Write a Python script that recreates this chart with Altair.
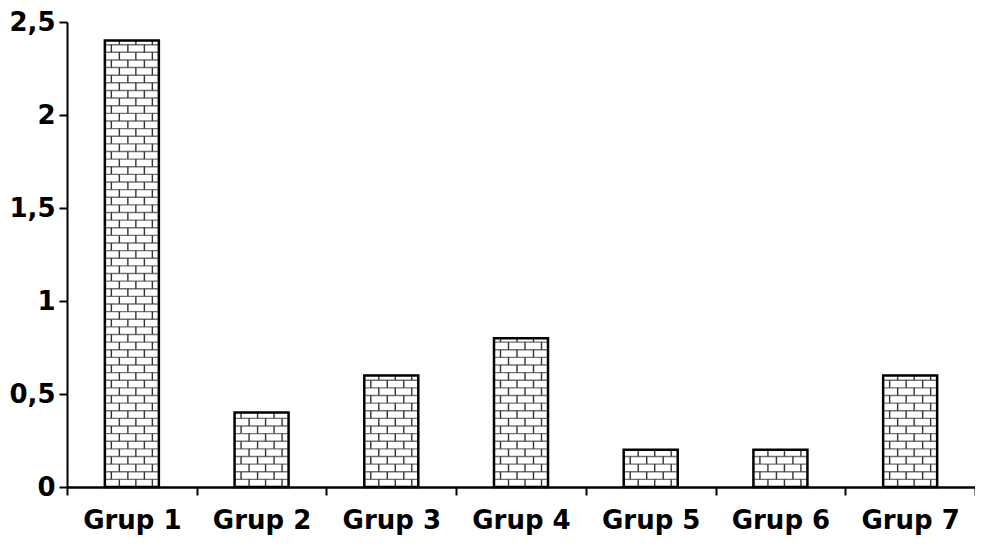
import math
import altair as alt
import pandas as pd

groups = ["Grup 1", "Grup 2", "Grup 3", "Grup 4", "Grup 5", "Grup 6", "Grup 7"]
values = [2.4, 0.4, 0.6, 0.8, 0.2, 0.2, 0.6]
y_ticks = [0, 0.5, 1, 1.5, 2, 2.5]

PLOT_W = 908
PLOT_H = 465
HALF_BAND = PLOT_W / len(groups) / 2

# brick pattern geometry (decoration, offsets in px from band centre)
ROW = 0.041
JOINTS_A = [-12.5, 4.0, 20.5]
JOINTS_B = [-20.5, -4.0, 12.5]
BAR_W = 54

bars = pd.DataFrame({"group": groups, "value": values})

hlines, vjoints = [], []
for g, v in zip(groups, values):
    n = int(math.ceil(v / ROW - 1e-9))
    for k in range(n):
        lo = k * ROW
        hi = min((k + 1) * ROW, v)
        if k > 0:
            hlines.append({"group": g, "y": lo})
        offs = JOINTS_A if k % 2 == 0 else JOINTS_B
        for o in offs:
            vjoints.append({"group": g, "y": lo, "y2": hi, "off": HALF_BAND + o})
hdf = pd.DataFrame(hlines)
vdf = pd.DataFrame(vjoints)

FONT = "DejaVu Sans"

x_enc = alt.X(
    "group:N",
    sort=groups,
    scale=alt.Scale(domain=groups, paddingInner=0, paddingOuter=0),
    axis=alt.Axis(
        title=None, labelAngle=0, tickBand="extent",
        labelFont=FONT, labelFontWeight="bold", labelFontSize=26, labelColor="black",
        domainColor="black", domainWidth=2.5, tickColor="black", tickWidth=2,
        tickSize=8, labelPadding=12, grid=False,
    ),
)
y_scale = alt.Scale(domain=[0, 2.5], nice=False)
y_axis = alt.Axis(
    title=None, values=y_ticks,
    labelExpr="replace(toString(datum.value), '.', ',')",
    labelFont=FONT, labelFontWeight="bold", labelFontSize=26, labelColor="black",
    domainColor="black", domainWidth=2, tickColor="black", tickWidth=2,
    tickSize=8, labelPadding=4, grid=False,
)

fill = alt.Chart(bars).mark_bar(size=BAR_W, color="white").encode(
    x=x_enc, y=alt.Y("value:Q", scale=y_scale, axis=y_axis)
)
mortar_h = alt.Chart(hdf).mark_tick(
    orient="horizontal", size=BAR_W - 2, thickness=1.4, color="#333333"
).encode(x=x_enc, y=alt.Y("y:Q", scale=y_scale, axis=y_axis))
mortar_v = alt.Chart(vdf).mark_rule(strokeWidth=1.4, color="#333333").encode(
    x=x_enc,
    xOffset=alt.XOffset("off:Q", scale=None),
    y=alt.Y("y:Q", scale=y_scale, axis=y_axis),
    y2="y2:Q",
)
outline = alt.Chart(bars).mark_bar(
    size=BAR_W, fillOpacity=0, stroke="black", strokeWidth=2.5
).encode(x=x_enc, y=alt.Y("value:Q", scale=y_scale, axis=y_axis))

chart = (
    alt.layer(fill, mortar_h, mortar_v, outline)
    .properties(
        width=PLOT_W, height=PLOT_H,
        background="white",
        autosize=alt.AutoSizeParams(type="none"),
        padding={"left": 59, "top": 14, "right": 0, "bottom": 53},
    )
    .configure_view(stroke=None)
)

chart.save("out.html", embed_options={"renderer": "svg", "actions": False})
